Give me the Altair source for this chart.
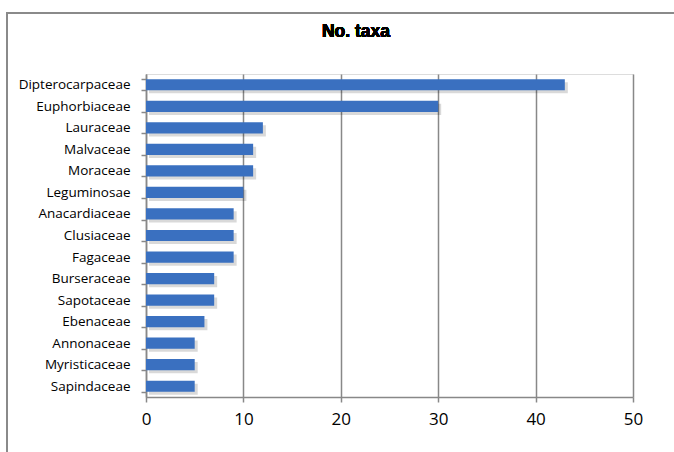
import altair as alt
import pandas as pd

families = ["Dipterocarpaceae", "Euphorbiaceae", "Lauraceae", "Malvaceae", "Moraceae",
            "Leguminosae", "Anacardiaceae", "Clusiaceae", "Fagaceae", "Burseraceae",
            "Sapotaceae", "Ebenaceae", "Annonaceae", "Myristicaceae", "Sapindaceae"]
taxa = [43, 30, 12, 11, 11, 10, 9, 9, 9, 7, 7, 6, 5, 5, 5]
x_ticks = [0, 10, 20, 30, 40, 50]

df = pd.DataFrame({"family": families, "taxa": taxa})

W, H = 487, 323
FONT = "Open Sans"

yenc = alt.Y("family:N", sort=families, title=None,
             scale=alt.Scale(paddingInner=0.48, paddingOuter=0.24),
             axis=alt.Axis(tickBand="extent", labelFont=FONT, labelFontSize=13.5,
                           labelColor="#000", tickColor="#888", domainColor="#888",
                           domainWidth=1.5, tickWidth=1.5, tickSize=5, labelPadding=11,
                           grid=False))
xenc = alt.X("taxa:Q", title=None,
             scale=alt.Scale(domain=[0, 50], nice=False),
             axis=alt.Axis(values=x_ticks, labelFont=FONT, labelFontSize=17,
                           labelFlush=False,
                           labelColor="#000", tickColor="#888", domainColor="#888",
                           domainWidth=1.5, tickWidth=1.5, tickSize=5, labelPadding=9,
                           gridColor="#888", gridWidth=1.5, gridOpacity=1))

frame = alt.Chart(df).mark_rect(fill=None, stroke="#8a8a8a", strokeWidth=2).encode(
    x=alt.value(-139), x2=alt.value(560), y=alt.value(-61), y2=alt.value(420))

title = alt.Chart(df).mark_text(text="No. taxa", font="Liberation Sans", fontSize=17.5,
                                fontWeight="bold", color="#000").encode(
    x=alt.value(210), y=alt.value(-42))

shadow = alt.Chart(df).mark_bar(color="#000", opacity=0.15, xOffset=3, yOffset=3).encode(
    x=alt.X("taxa:Q", scale=alt.Scale(domain=[0, 50], nice=False)),
    y=alt.Y("family:N", sort=families,
            scale=alt.Scale(paddingInner=0.48, paddingOuter=0.24)))

bars = alt.Chart(df).mark_bar(color="#3a70c0").encode(x=xenc, y=yenc)

chart = alt.layer(frame, title, shadow, bars).properties(
    width=W, height=H,
    autosize=alt.AutoSizeParams(type="none"),
    padding={"left": 146, "top": 74, "right": 41, "bottom": 55},
).configure_view(stroke=None).configure(background="#ffffff")

chart.save("out.html", embed_options={"renderer": "svg", "actions": False})
